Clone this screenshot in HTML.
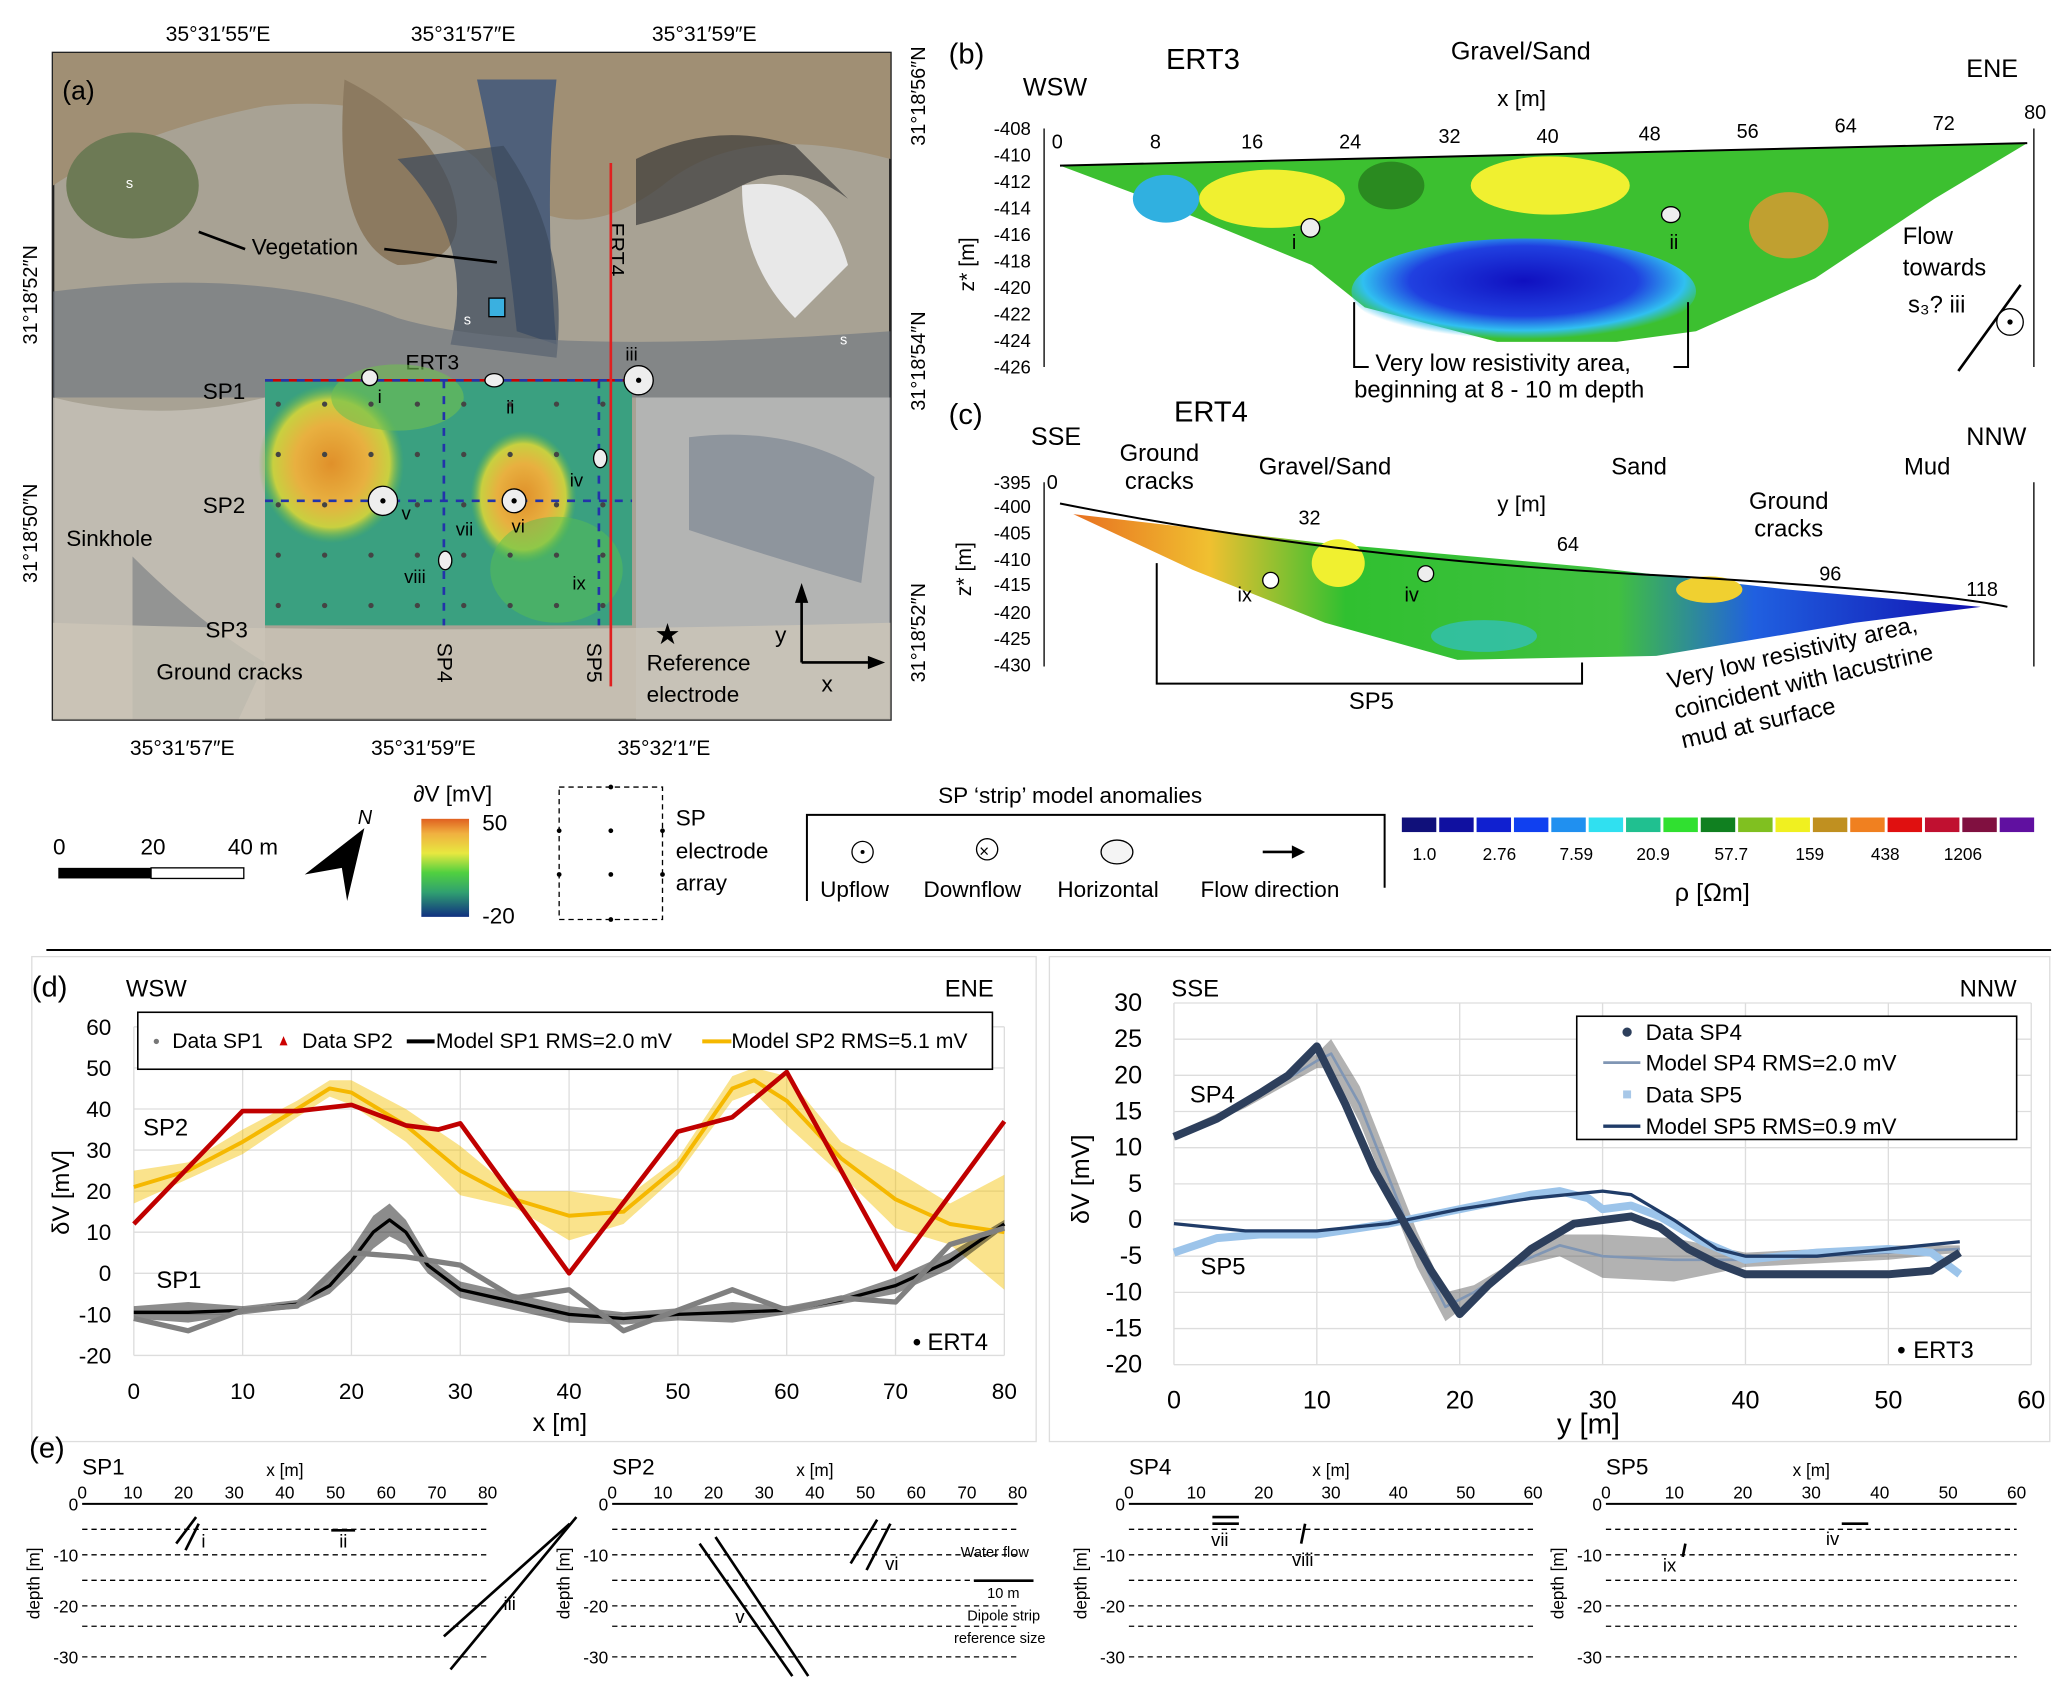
<!DOCTYPE html>
<html><head><meta charset="utf-8"><style>
html,body{margin:0;padding:0;background:#fff}
svg{display:block;font-family:"Liberation Sans",sans-serif}
</style></head><body>
<svg id="fig" width="2067" height="1688" viewBox="0 0 1560 1274" preserveAspectRatio="none" xmlns="http://www.w3.org/2000/svg">
<defs>
<radialGradient id="hot" cx="50%" cy="50%" r="50%"><stop offset="0" stop-color="#e0902a"/><stop offset="0.5" stop-color="#e8b040"/><stop offset="0.8" stop-color="#c8d040"/><stop offset="1" stop-color="#5cb84a" stop-opacity="0"/></radialGradient>
<radialGradient id="blueg" cx="50%" cy="40%" r="55%"><stop offset="0" stop-color="#1010c0"/><stop offset="0.6" stop-color="#2040e0"/><stop offset="0.85" stop-color="#30c0f0"/><stop offset="1" stop-color="#30c0f0" stop-opacity="0"/></radialGradient>
<linearGradient id="cbar" x1="0" y1="0" x2="0" y2="1"><stop offset="0" stop-color="#e06020"/><stop offset="0.15" stop-color="#f0b040"/><stop offset="0.35" stop-color="#e8e840"/><stop offset="0.55" stop-color="#50d040"/><stop offset="0.75" stop-color="#30a070"/><stop offset="1" stop-color="#103080"/></linearGradient>
<linearGradient id="ert4g" x1="0" y1="0" x2="1" y2="0"><stop offset="0" stop-color="#e87020"/><stop offset="0.15" stop-color="#f0c030"/><stop offset="0.3" stop-color="#30c030"/><stop offset="0.6" stop-color="#40c040"/><stop offset="0.75" stop-color="#2060e0"/><stop offset="1" stop-color="#1010b0"/></linearGradient>
</defs>

<!-- PANEL A: map -->
<g>
<rect x="40" y="40" width="632" height="503" fill="#a8a294" stroke="#222" stroke-width="2"/>
<path d="M40 40H672V120Q560 90 500 140Q420 200 360 120Q300 70 200 80Q100 100 40 140Z" fill="#a08f74"/>
<path d="M260 60Q320 90 340 140Q360 200 300 200Q250 180 260 60Z" fill="#8c7a60"/>
<path d="M360 60Q380 150 390 250L420 260Q410 150 420 60Z" fill="#4f607a"/>
<path d="M300 120Q360 180 340 260L420 270Q430 180 380 110Z" fill="#3c4a5c" opacity="0.7"/>
<path d="M40 220Q200 200 300 240Q400 270 672 250V300H40Z" fill="#6a737e" opacity="0.6"/>
<path d="M480 120Q540 90 600 110L640 150Q600 120 560 140Q520 160 480 170Z" fill="#3a3a3a" opacity="0.7"/>
<path d="M560 140Q620 130 640 200L600 240Q560 200 560 140Z" fill="#e8e8e8"/>
<ellipse cx="100" cy="140" rx="50" ry="40" fill="#6d7a55"/>
<path d="M40 300Q120 320 200 300V543H40Z" fill="#c6c2b8" opacity="0.8"/>
<path d="M480 300H672V543H480Z" fill="#b8bcc0" opacity="0.7"/>
<path d="M520 330Q600 320 660 360L650 440Q580 420 520 400Z" fill="#6a7688" opacity="0.5"/>
<path d="M100 420Q150 470 200 500L180 543H100Z" fill="#505a66" opacity="0.4"/>
<path d="M40 470Q300 480 672 470V543H40Z" fill="#ccc5b8" opacity="0.8"/>
<text x="47" y="75" font-size="20">(a)</text>
<text x="95" y="142" font-size="11" fill="#fff">s</text>
<text x="350" y="245" font-size="11" fill="#fff">s</text>
<text x="634" y="260" font-size="11" fill="#fff">s</text>
<text x="190" y="192" font-size="17">Vegetation</text>
<line x1="150" y1="175" x2="185" y2="188" stroke="#000" stroke-width="2"/>
<line x1="290" y1="188" x2="375" y2="198" stroke="#000" stroke-width="2"/>
<rect x="369" y="225" width="12" height="14" fill="#3ab0e0" stroke="#000"/>
<text x="50" y="412" font-size="17">Sinkhole</text>
<text x="118" y="513" font-size="17">Ground cracks</text>
<text x="155" y="481" font-size="17">SP3</text>
<text x="153" y="301" font-size="17">SP1</text>
<text x="153" y="387" font-size="17">SP2</text>
<text x="306" y="279" font-size="16">ERT3</text>
<text x="460" y="168" font-size="16" transform="rotate(90 460 168)">ERT4</text>
<text x="330" y="485" font-size="16" transform="rotate(90 330 485)">SP4</text>
<text x="443" y="485" font-size="16" transform="rotate(90 443 485)">SP5</text>
<text x="488" y="506" font-size="17">Reference</text>
<text x="488" y="530" font-size="17">electrode</text>
<text x="494" y="486" font-size="22">★</text>
<line x1="605" y1="500" x2="605" y2="445" stroke="#000" stroke-width="2"/>
<line x1="605" y1="500" x2="660" y2="500" stroke="#000" stroke-width="2"/>
<polygon points="605,440 600,455 610,455" fill="#000"/><polygon points="668,500 655,495 655,505" fill="#000"/>
<text x="585" y="485" font-size="17">y</text><text x="620" y="522" font-size="17">x</text>
<!-- heatmap -->
<rect x="200" y="287" width="277" height="185" fill="#3aa080"/>
<ellipse cx="250" cy="350" rx="55" ry="60" fill="url(#hot)"/>
<ellipse cx="395" cy="375" rx="40" ry="50" fill="url(#hot)"/>
<ellipse cx="300" cy="300" rx="50" ry="25" fill="#70c050" opacity="0.6"/>
<ellipse cx="420" cy="430" rx="50" ry="40" fill="#58c050" opacity="0.5"/>
<g id="elecDots" fill="#444"></g>
<line x1="200" y1="287" x2="477" y2="287" stroke="#c00" stroke-width="2"/>
<line x1="200" y1="287" x2="477" y2="287" stroke="#23a" stroke-width="2" stroke-dasharray="6 6"/>
<line x1="200" y1="378" x2="477" y2="378" stroke="#23a" stroke-width="2" stroke-dasharray="6 6"/>
<line x1="335" y1="287" x2="335" y2="472" stroke="#23a" stroke-width="2" stroke-dasharray="6 6"/>
<line x1="452" y1="287" x2="452" y2="472" stroke="#23a" stroke-width="2" stroke-dasharray="6 6"/>
<line x1="461" y1="123" x2="461" y2="518" stroke="#e02020" stroke-width="2"/>
<circle cx="289" cy="378" r="11" fill="#eee" stroke="#000"/><circle cx="289" cy="378" r="2"/>
<circle cx="388" cy="378" r="9" fill="#eee" stroke="#000"/><circle cx="388" cy="378" r="2"/>
<circle cx="482" cy="287" r="11" fill="#eee" stroke="#000"/><circle cx="482" cy="287" r="2"/>
<circle cx="279" cy="285" r="6" fill="#eee" stroke="#000"/>
<ellipse cx="373" cy="287" rx="7" ry="5" fill="#eee" stroke="#000"/>
<ellipse cx="453" cy="346" rx="5" ry="7" fill="#eee" stroke="#000"/>
<ellipse cx="336" cy="423" rx="5" ry="7" fill="#eee" stroke="#000"/>
<text x="285" y="304" font-size="14">i</text><text x="382" y="312" font-size="14">ii</text>
<text x="472" y="272" font-size="14">iii</text><text x="430" y="367" font-size="14">iv</text>
<text x="303" y="392" font-size="14">v</text><text x="386" y="402" font-size="14">vi</text>
<text x="344" y="404" font-size="14">vii</text><text x="305" y="440" font-size="14">viii</text>
<text x="432" y="445" font-size="14">ix</text>
<text x="125" y="31" font-size="16">35°31′55″E</text><text x="310" y="31" font-size="16">35°31′57″E</text><text x="492" y="31" font-size="16">35°31′59″E</text>
<text x="98" y="570" font-size="16">35°31′57″E</text><text x="280" y="570" font-size="16">35°31′59″E</text><text x="466" y="570" font-size="16">35°32′1″E</text>
<text x="28" y="260" font-size="15" transform="rotate(-90 28 260)">31°18′52″N</text>
<text x="28" y="440" font-size="15" transform="rotate(-90 28 440)">31°18′50″N</text>
<text x="698" y="110" font-size="15" transform="rotate(-90 698 110)">31°18′56″N</text>
<text x="698" y="310" font-size="15" transform="rotate(-90 698 310)">31°18′54″N</text>
<text x="698" y="515" font-size="15" transform="rotate(-90 698 515)">31°18′52″N</text>
</g>

<!-- PANEL B -->
<g>
<text x="716" y="48" font-size="22">(b)</text>
<text x="880" y="52" font-size="22">ERT3</text>
<text x="1095" y="45" font-size="19">Gravel/Sand</text>
<text x="772" y="72" font-size="19">WSW</text>
<text x="1484" y="58" font-size="19">ENE</text>
<text x="1130" y="80" font-size="17">x [m]</text>
<g font-size="15" text-anchor="middle">
<text x="798" y="112">0</text><text x="872" y="112">8</text><text x="945" y="112">16</text><text x="1019" y="112">24</text><text x="1094" y="108">32</text><text x="1168" y="108">40</text><text x="1245" y="106">48</text><text x="1319" y="104">56</text><text x="1393" y="100">64</text><text x="1467" y="98">72</text><text x="1536" y="90">80</text>
</g>
<g font-size="14" text-anchor="end">
<text x="778" y="102">-408</text><text x="778" y="122">-410</text><text x="778" y="142">-412</text><text x="778" y="162">-414</text><text x="778" y="182">-416</text><text x="778" y="202">-418</text><text x="778" y="222">-420</text><text x="778" y="242">-422</text><text x="778" y="262">-424</text><text x="778" y="282">-426</text>
</g>
<line x1="788" y1="97" x2="788" y2="277" stroke="#000"/><line x1="1535" y1="97" x2="1535" y2="277" stroke="#000"/>
<text x="735" y="220" font-size="16" transform="rotate(-90 735 220)">z* [m]</text>
<polygon points="800,125 1530,108 1460,150 1370,210 1280,250 1220,258 1130,258 1030,232 990,200 880,155" fill="#3cc030"/>
<ellipse cx="960" cy="150" rx="55" ry="22" fill="#f0f030"/>
<ellipse cx="1170" cy="140" rx="60" ry="22" fill="#f0f030"/>
<ellipse cx="1350" cy="170" rx="30" ry="25" fill="#c0a030"/>
<ellipse cx="1050" cy="140" rx="25" ry="18" fill="#2a8a20"/>
<ellipse cx="880" cy="150" rx="25" ry="18" fill="#30b0e0"/>
<ellipse cx="1150" cy="220" rx="130" ry="40" fill="url(#blueg)"/>
<line x1="800" y1="125" x2="1530" y2="108" stroke="#000" stroke-width="1.5"/>
<circle cx="989" cy="172" r="7" fill="#eee" stroke="#000"/><ellipse cx="1261" cy="162" rx="7" ry="6" fill="#eee" stroke="#000"/>
<text x="975" y="188" font-size="15">i</text><text x="1260" y="188" font-size="15">ii</text>
<path d="M1022 228V277H1033M1274 228V277H1263" fill="none" stroke="#000" stroke-width="1.5"/>
<text x="1038" y="280" font-size="18">Very low resistivity area,</text>
<text x="1022" y="300" font-size="18">beginning at 8 - 10 m depth</text>
<text x="1436" y="184" font-size="18">Flow</text><text x="1436" y="208" font-size="18">towards</text><text x="1440" y="236" font-size="18">s₃? iii</text>
<line x1="1478" y1="280" x2="1525" y2="215" stroke="#000" stroke-width="2"/>
<circle cx="1517" cy="243" r="10" fill="#fff" stroke="#000"/><circle cx="1517" cy="243" r="2"/>
</g>

<!-- PANEL C -->
<g>
<text x="716" y="320" font-size="22">(c)</text>
<text x="886" y="318" font-size="22">ERT4</text>
<text x="778" y="336" font-size="19">SSE</text><text x="1484" y="336" font-size="19">NNW</text>
<text x="845" y="348" font-size="18">Ground</text><text x="849" y="369" font-size="18">cracks</text>
<text x="950" y="358" font-size="18">Gravel/Sand</text><text x="1216" y="358" font-size="18">Sand</text><text x="1437" y="358" font-size="18">Mud</text>
<text x="1130" y="386" font-size="17">y [m]</text>
<text x="1320" y="384" font-size="18">Ground</text><text x="1324" y="405" font-size="18">cracks</text>
<g font-size="15"><text x="790" y="369">0</text><text x="980" y="396">32</text><text x="1175" y="416">64</text><text x="1373" y="438">96</text><text x="1484" y="450">118</text></g>
<g font-size="14" text-anchor="end">
<text x="778" y="369">-395</text><text x="778" y="387">-400</text><text x="778" y="407">-405</text><text x="778" y="427">-410</text><text x="778" y="446">-415</text><text x="778" y="467">-420</text><text x="778" y="487">-425</text><text x="778" y="507">-430</text>
</g>
<line x1="788" y1="364" x2="788" y2="503" stroke="#000"/><line x1="1535" y1="364" x2="1535" y2="503" stroke="#000"/>
<text x="733" y="450" font-size="16" transform="rotate(-90 733 450)">z* [m]</text>
<polygon points="810,388 1000,410 1200,428 1350,445 1495,458 1400,470 1250,495 1100,498 1000,470 900,430" fill="url(#ert4g)"/>
<ellipse cx="1010" cy="425" rx="20" ry="18" fill="#f0f030"/>
<ellipse cx="1290" cy="445" rx="25" ry="10" fill="#f0d030"/>
<ellipse cx="1120" cy="480" rx="40" ry="12" fill="#30c0e0" opacity="0.6"/>
<path d="M800 380Q1000 420 1230 433T1515 458" fill="none" stroke="#000" stroke-width="1.5"/>
<circle cx="959" cy="438" r="6" fill="#fff" stroke="#000"/><circle cx="1076" cy="433" r="6" fill="#eee" stroke="#000"/>
<text x="934" y="454" font-size="15">ix</text><text x="1060" y="454" font-size="15">iv</text>
<path d="M873 425V516H1194V500" fill="none" stroke="#000" stroke-width="1.5"/>
<text x="1018" y="535" font-size="18">SP5</text>
<g transform="rotate(-13 1260 520)" font-size="18"><text x="1260" y="520">Very low resistivity area,</text><text x="1260" y="543">coincident with lacustrine</text><text x="1260" y="566">mud at surface</text></g>
</g>

<!-- LEGENDS -->
<g>
<text x="40" y="645" font-size="17">0</text><text x="106" y="645" font-size="17">20</text><text x="172" y="645" font-size="17">40 m</text>
<rect x="44" y="655" width="70" height="8" fill="#000"/><rect x="114" y="655" width="70" height="8" fill="#fff" stroke="#000"/>
<polygon points="230,660 275,625 262,680 258,655" fill="#000"/>
<text x="270" y="622" font-size="15" font-style="italic">N</text>
<text x="312" y="605" font-size="17">∂V [mV]</text>
<rect x="318" y="618" width="36" height="74" fill="url(#cbar)"/>
<text x="364" y="627" font-size="17">50</text><text x="364" y="697" font-size="17">-20</text>
<rect x="422" y="594" width="78" height="100" fill="none" stroke="#000" stroke-dasharray="4 3"/>
<g fill="#000"><circle cx="461" cy="594" r="1.8"/><circle cx="461" cy="694" r="1.8"/><circle cx="422" cy="627" r="1.8"/><circle cx="500" cy="627" r="1.8"/><circle cx="461" cy="627" r="1.8"/><circle cx="422" cy="660" r="1.8"/><circle cx="500" cy="660" r="1.8"/><circle cx="461" cy="660" r="1.8"/></g>
<text x="510" y="623" font-size="17">SP</text><text x="510" y="648" font-size="17">electrode</text><text x="510" y="672" font-size="17">array</text>
<text x="708" y="606" font-size="17">SP ‘strip’ model anomalies</text>
<path d="M609 680V615H1045V670" fill="none" stroke="#000" stroke-width="1.5"/>
<circle cx="651" cy="643" r="8" fill="none" stroke="#000"/><circle cx="651" cy="643" r="1.5"/>
<circle cx="745" cy="641" r="8" fill="none" stroke="#000"/><text x="739" y="647" font-size="13">×</text>
<ellipse cx="843" cy="643" rx="12" ry="9" fill="#f4f4f4" stroke="#000"/>
<line x1="953" y1="643" x2="980" y2="643" stroke="#000" stroke-width="2"/><polygon points="985,643 975,638 975,648"/>
<text x="619" y="677" font-size="17">Upflow</text><text x="697" y="677" font-size="17">Downflow</text><text x="798" y="677" font-size="17">Horizontal</text><text x="906" y="677" font-size="17">Flow direction</text>
<g id="rhoBar"></g>
<g font-size="13"><text x="1066" y="649">1.0</text><text x="1119" y="649">2.76</text><text x="1177" y="649">7.59</text><text x="1235" y="649">20.9</text><text x="1294" y="649">57.7</text><text x="1355" y="649">159</text><text x="1412" y="649">438</text><text x="1467" y="649">1206</text></g>
<text x="1264" y="680" font-size="19">ρ [Ωm]</text>
<line x1="35" y1="717" x2="1548" y2="717" stroke="#000" stroke-width="1.5"/>
</g>

<!-- PANEL D -->
<g>
<rect x="24" y="722" width="758" height="366" fill="none" stroke="#ddd"/>
<rect x="792" y="722" width="755" height="366" fill="none" stroke="#ddd"/>
<text x="24" y="752" font-size="22">(d)</text>
<text x="95" y="752" font-size="18">WSW</text><text x="713" y="752" font-size="18">ENE</text>
<g id="chartL"></g>
<rect x="104" y="764" width="645" height="43" fill="#fff" stroke="#000" stroke-width="1.2"/>
<g font-size="16"><circle cx="118" cy="786" r="2" fill="#777"/><text x="130" y="791">Data SP1</text>
<polygon points="214,782 211,789 217,789" fill="#c00"/><text x="228" y="791">Data SP2</text>
<line x1="307" y1="786" x2="328" y2="786" stroke="#000" stroke-width="3"/><text x="329" y="791">Model SP1 RMS=2.0 mV</text>
<line x1="530" y1="786" x2="552" y2="786" stroke="#f5b800" stroke-width="3"/><text x="552" y="791">Model SP2 RMS=5.1 mV</text></g>
<text x="108" y="857" font-size="18">SP2</text><text x="118" y="972" font-size="18">SP1</text>
<circle cx="692" cy="1013" r="2.5"/><text x="700" y="1019" font-size="18">ERT4</text>
<text x="402" y="1080" font-size="19">x [m]</text>
<text x="52" y="900" font-size="18" transform="rotate(-90 52 900)" text-anchor="middle">δV [mV]</text>
</g>
<g>
<text x="884" y="752" font-size="18">SSE</text><text x="1479" y="752" font-size="18">NNW</text>
<g id="chartR"></g>
<rect x="1190" y="767" width="332" height="93" fill="#fff" stroke="#000" stroke-width="1.2"/>
<g font-size="17"><circle cx="1228" cy="779" r="3.5" fill="#2d3f5c"/><text x="1242" y="785">Data SP4</text>
<line x1="1210" y1="802" x2="1238" y2="802" stroke="#8096b4" stroke-width="2"/><text x="1242" y="808">Model SP4 RMS=2.0 mV</text>
<rect x="1225" y="823" width="6" height="6" fill="#a8c8e8"/><text x="1242" y="832">Data SP5</text>
<line x1="1210" y1="850" x2="1238" y2="850" stroke="#203c68" stroke-width="2.5"/><text x="1242" y="856">Model SP5 RMS=0.9 mV</text></g>
<text x="898" y="832" font-size="18">SP4</text><text x="906" y="962" font-size="18">SP5</text>
<circle cx="1435" cy="1019" r="2.5"/><text x="1444" y="1025" font-size="18">ERT3</text>
<text x="1175" y="1082" font-size="22">y [m]</text>
<text x="822" y="890" font-size="19" transform="rotate(-90 822 890)" text-anchor="middle">δV [mV]</text>
</g>

<!-- PANEL E -->
<g id="panelE">
<text x="22" y="1100" font-size="22">(e)</text>
</g>
</svg>
<script>
// ---- chart data (panel d left) ----
const sp1DataX=[0,5,10,15,20,25,30,35,40,45,50,55,60,65,70,75,80];
const sp1DataY=[-11,-14,-9,-8,5,4,2,-6,-4,-14,-9,-4,-9,-6,-7,7,11];
const sp1ModelX=[0,5,10,15,18,20,22,23.5,25,27,30,35,40,45,50,55,60,65,70,75,80];
const sp1ModelY=[-9.5,-9.5,-9,-7.5,-3,3,10,13,10,2,-4,-7,-10,-11,-10,-9.5,-9,-6.5,-3,3,12];
const sp1ModelErr=[1.5,2.5,1,1,2,3,4,4,3,2,2,2,2,1.5,1.5,2.5,1,1,2,2,1];
const sp2DataX=[0,10,15,20,25,28,30,40,50,55,60,70,80];
const sp2DataY=[12,39.5,39.5,41,36,35,36.5,0,34.5,38,49,1,37];
const sp2ModelX=[0,5,10,15,18,20,25,30,35,40,45,50,55,57,60,65,70,75,80];
const sp2ModelY=[21,25,32,40,45,44,36,25,18,14,15,26,45,47,42,28,18,12,10];
const sp2ModelErr=[4,2,3,2,2,3,4,6,2,6,3,2,3,3,6,4,7,5,14];
const leftXTicks=[0,10,20,30,40,50,60,70,80];
const leftYTicks=[60,50,40,30,20,10,0,-10,-20];
// ---- chart data (panel d right) ----
const sp4DataX=[0,3,6,8,10,12,14,16,18,20,22,25,28,30,32,34,36,38,40,45,50,53,55];
const sp4DataY=[11.5,14,17.5,20,24,16,7,0,-7,-13,-9,-4,-0.5,0,0.5,-1,-4,-6,-7.5,-7.5,-7.5,-7,-4.5];
const sp4ModelX=[0,5,10,11,13,15,17,19,21,24,27,30,35,40,45,50,55];
const sp4ModelY=[11.5,16,22,23,16,6,-4,-12,-10,-6,-3.5,-5,-5.5,-5.5,-5,-4.5,-4];
const sp4ModelErr=[0.5,0.5,1,2,2.5,2.5,2.5,2,1,0.5,1.5,3,3,1,1,1,0.5];
const sp5DataX=[0,3,6,10,15,20,25,27,29,30,32,34,37,40,45,50,53,55];
const sp5DataY=[-4.5,-2.5,-2,-2,-0.5,1.5,3.5,4,3,1.5,2,0.5,-3,-5.5,-4.5,-4,-4.5,-7.5];
const sp5ModelX=[0,5,10,15,20,25,30,32,35,38,40,45,50,55];
const sp5ModelY=[-0.5,-1.5,-1.5,-0.5,1.5,3,4,3.5,0,-4,-5,-5,-4,-3];
const rightXTicks=[0,10,20,30,40,50,60];
const rightYTicks=[30,25,20,15,10,5,0,-5,-10,-15,-20];
// colorbar
const rhoColors=["#10107a","#1010a0","#1020d0","#1040f0","#2090f0","#30e0f0","#20c090","#30e030","#108020","#80c020","#f0f020","#c09020","#f08020","#e01010","#c01030","#801040","#6010a0"];

const NS="http://www.w3.org/2000/svg";
function mk(tag,attrs,parent){const e=document.createElementNS(NS,tag);for(const k in attrs)e.setAttribute(k,attrs[k]);parent.appendChild(e);return e;}

// electrode dots on heatmap
const ed=document.getElementById('elecDots');
for(let i=0;i<8;i++)for(let j=0;j<5;j++){
  const c=mk('circle',{cx:210+i*35,cy:305+j*38,r:2},ed);
  
  
}

// colorbar
const rb=document.getElementById('rhoBar');
rhoColors.forEach((c,i)=>{const r=mk('rect',{x:1058+i*28.2,y:617,width:26,height:11,fill:c},rb);

});

function chart(g,x0,x1,xmin,xmax,yTop,yBot,ymax,ymin,xt,yt,yLabX,xLabY,fs){
  const sx=v=>x0+(v-xmin)/(xmax-xmin)*(x1-x0);
  const sy=v=>yTop+(ymax-v)/(ymax-ymin)*(yBot-yTop);
  yt.forEach(t=>{const l=mk('line',{x1:x0,x2:x1,y1:sy(t),y2:sy(t),stroke:'#ddd'},g);
    
    
    const tx=mk('text',{x:yLabX,y:sy(t)+6,'font-size':fs,'text-anchor':'end'},g);tx.textContent=t;
    
    });
  xt.forEach(t=>{const l=mk('line',{x1:sx(t),x2:sx(t),y1:yTop,y2:yBot,stroke:'#ddd'},g);
    
    
    const tx=mk('text',{x:sx(t),y:xLabY,'font-size':fs,'text-anchor':'middle'},g);tx.textContent=t;
    
    });
  return {sx,sy};
}
function band(g,s,xs,ys,es,color,name){
  let d='M'+xs.map((x,i)=>s.sx(x)+' '+s.sy(ys[i]+es[i])).join('L');
  for(let i=xs.length-1;i>=0;i--)d+='L'+s.sx(xs[i])+' '+s.sy(ys[i]-es[i]);
  const p=mk('path',{d:d+'Z',fill:color,opacity:0.45},g);
  
  
}
function line(g,s,xs,ys,color,w,name){
  const p=mk('polyline',{points:xs.map((x,i)=>s.sx(x)+','+s.sy(ys[i])).join(' '),fill:'none',stroke:color,'stroke-width':w,'stroke-linejoin':'round'},g);
  
  
}
const gL=document.getElementById('chartL');
const sL=chart(gL,101,758,0,80,775,1023,60,-20,leftXTicks,leftYTicks,84,1056,17);
band(gL,sL,sp2ModelX,sp2ModelY,sp2ModelErr,'#f5c000','sp2-model-band');
band(gL,sL,sp1ModelX,sp1ModelY,sp1ModelErr,'#000','sp1-model-band');
line(gL,sL,sp2ModelX,sp2ModelY,'#f5b800',3,'sp2-model-line');
line(gL,sL,sp1ModelX,sp1ModelY,'#000',2.5,'sp1-model-line');
line(gL,sL,sp1DataX,sp1DataY,'#808080',4,'sp1-data-line');
line(gL,sL,sp2DataX,sp2DataY,'#c00000',3.5,'sp2-data-line');

const gR=document.getElementById('chartR');
const sR=chart(gR,886,1533,0,60,757,1030,30,-20,rightXTicks,rightYTicks,862,1063,19);
band(gR,sR,sp4ModelX,sp4ModelY,sp4ModelErr,'#555','sp4-model-band');
line(gR,sR,sp4ModelX,sp4ModelY,'#8096b4',2,'sp4-model-line');
line(gR,sR,sp5DataX,sp5DataY,'#9cc4ea',6,'sp5-data-line');
line(gR,sR,sp5ModelX,sp5ModelY,'#203c68',2.5,'sp5-model-line');
line(gR,sR,sp4DataX,sp4DataY,'#2d3f5c',6,'sp4-data-line');

// panel e
const stripPanels=[{n:'SP1',x0:62,x1:368,max:80,ticks:[0,10,20,30,40,50,60,70,80]},
 {n:'SP2',x0:462,x1:768,max:80,ticks:[0,10,20,30,40,50,60,70,80]},
 {n:'SP4',x0:852,x1:1157,max:60,ticks:[0,10,20,30,40,50,60]},
 {n:'SP5',x0:1212,x1:1522,max:60,ticks:[0,10,20,30,40,50,60]}];
const depthTicks=[0,-10,-20,-30];
const dashDepths=[-5,-10,-15,-20,-24,-30];
const gE=document.getElementById('panelE');
const dy=d=>1135-d*3.85;
stripPanels.forEach(p=>{
  const t=mk('text',{x:p.x0,y:1113,'font-size':17},gE);t.textContent=p.n;
  
  
  const xl=mk('text',{x:(p.x0+p.x1)/2,y:1114,'font-size':13,'text-anchor':'middle'},gE);xl.textContent='x [m]';
  
  
  const a=mk('line',{x1:p.x0,x2:p.x1,y1:1135,y2:1135,stroke:'#000','stroke-width':1.5},gE);
  
  
  p.ticks.forEach(v=>{const tx=mk('text',{x:p.x0+v/p.max*(p.x1-p.x0),y:1131,'font-size':13,'text-anchor':'middle'},gE);tx.textContent=v;
    
    });
  depthTicks.forEach(d=>{const tx=mk('text',{x:p.x0-3,y:dy(d)+5,'font-size':13,'text-anchor':'end'},gE);tx.textContent=d;
    
    });
  dashDepths.forEach(d=>{const l=mk('line',{x1:p.x0,x2:p.x1,y1:dy(d),y2:dy(d),stroke:'#000','stroke-dasharray':'4 3'},gE);
    
    });
  const yl=mk('text',{x:p.x0-32,y:1195,'font-size':13,'text-anchor':'middle',transform:'rotate(-90 '+(p.x0-32)+' 1195)'},gE);yl.textContent='depth [m]';
  
  
});
const strips=[[0,133,1165,148,1145],[0,140,1170,150,1150],[0,250,1155,268,1155],[0,335,1235,430,1150],[0,340,1260,435,1145],
[1,528,1165,598,1265],[1,540,1160,610,1265],[1,642,1180,662,1147],[1,654,1185,672,1150],
[2,935,1150,915,1150],[2,935,1145,915,1145],[2,982,1165,985,1150],[3,1410,1150,1390,1150],[3,1270,1175,1272,1165]];
strips.forEach(s=>{const l=mk('line',{x1:s[1],y1:s[2],x2:s[3],y2:s[4],stroke:'#000','stroke-width':2},gE);
  
  });
const labs=[[152,1168,'i'],[256,1168,'ii'],[380,1215,'iii'],[555,1225,'v'],[668,1185,'vi'],[914,1167,'vii'],[975,1182,'viii'],[1378,1166,'iv'],[1255,1186,'ix']];
labs.forEach(l=>{const t=mk('text',{x:l[0],y:l[1],'font-size':14},gE);t.textContent=l[2];
  
  });
[[725,1175,'Water flow'],[745,1206,'10 m'],[730,1223,'Dipole strip'],[720,1240,'reference size']].forEach(l=>{
  const t=mk('text',{x:l[0],y:l[1],'font-size':11},gE);t.textContent=l[2];
  
  });
const rl=mk('line',{x1:735,y1:1193,x2:780,y2:1193,stroke:'#000','stroke-width':2},gE);


</script>
</body></html>
